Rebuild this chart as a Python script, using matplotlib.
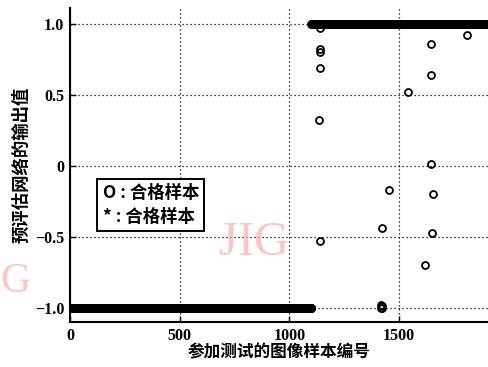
import numpy as np
import matplotlib.pyplot as plt

plt.rcParams['font.family'] = ['Noto Sans CJK SC', 'DejaVu Sans']

# Network outputs for the test samples
n_total = 1900
n_neg = 1100
neg_value = -1.0
pos_value = 1.0

# Samples whose output stayed away from the target value
odd_idx = [1138, 1140, 1142, 1139, 1137, 1539, 1644, 1646, 1648, 1812,
           1453, 1653, 1421, 1649, 1621, 1418, 1420, 1422, 1424]
odd_out = [0.97, 0.82, 0.80, 0.69, 0.32, 0.52, 0.86, 0.64, 0.01, 0.92,
           -0.17, -0.20, -0.44, -0.47, -0.70, -0.98, -1.0, -0.99, -1.0]
odd_low = [1138, -0.53]

idx = np.arange(1, n_total + 1)
out = np.where(idx <= n_neg, neg_value, pos_value)
for i, v in zip(odd_idx, odd_out):
    out[i - 1] = v

fig = plt.figure(figsize=(4.88, 3.67), dpi=100)
ax = fig.add_axes([0.1434, 0.1226, 0.8566, 0.855])

ax.plot(idx, out, 'o', mfc='none', mec='black', ms=5, mew=1.3)
ax.plot(odd_low[0], odd_low[1], 'o', mfc='none', mec='black', ms=5, mew=1.3)

ax.set_xlim(0, 1906)
ax.set_ylim(-1.1, 1.11)
ax.set_xticks([0, 500, 1000, 1500])
ax.set_yticks([-1.0, -0.5, 0, 0.5, 1.0])
ax.set_yticklabels(['\u22121.0', '\u22120.5', '0', '0.5', '1.0'])
for lab in ax.get_xticklabels() + ax.get_yticklabels():
    lab.set_family('Liberation Serif')
    lab.set_fontweight('bold')
    lab.set_fontsize(11.5)
ax.tick_params(direction='in', length=4, width=1, pad=4, colors='black')

ax.grid(True, linestyle=(0, (1, 2.2)), color='black', linewidth=0.9)
ax.spines['top'].set_visible(False)
ax.spines['right'].set_visible(False)
ax.spines['left'].set_linewidth(1.5)
ax.spines['bottom'].set_linewidth(1.5)

ax.set_xlabel('参加测试的图像样本编号', fontsize=12, fontweight='bold', labelpad=0)
ax.set_ylabel('预评估网络的输出值', fontsize=12.5, fontweight='bold', labelpad=3)

ax.text(0.078, 0.44, 'O : 合格样本\n* : 合格样本', transform=ax.transAxes,
        fontsize=12.5, fontweight='bold', va='top', ha='left', linespacing=1.4,
        bbox=dict(boxstyle='square,pad=0.3', fc='white', ec='black', lw=1.4),
        zorder=5)

# journal watermark
fig.text(0.448, 0.305, 'JIG', family='Liberation Serif', fontsize=35,
         color='#ffb0b0', alpha=0.75, zorder=0)
fig.text(0.0, 0.205, 'G', family='Liberation Serif', fontsize=30,
         color='#ffb0b0', alpha=0.75, zorder=0)

fig.savefig('out.png', dpi=100)
